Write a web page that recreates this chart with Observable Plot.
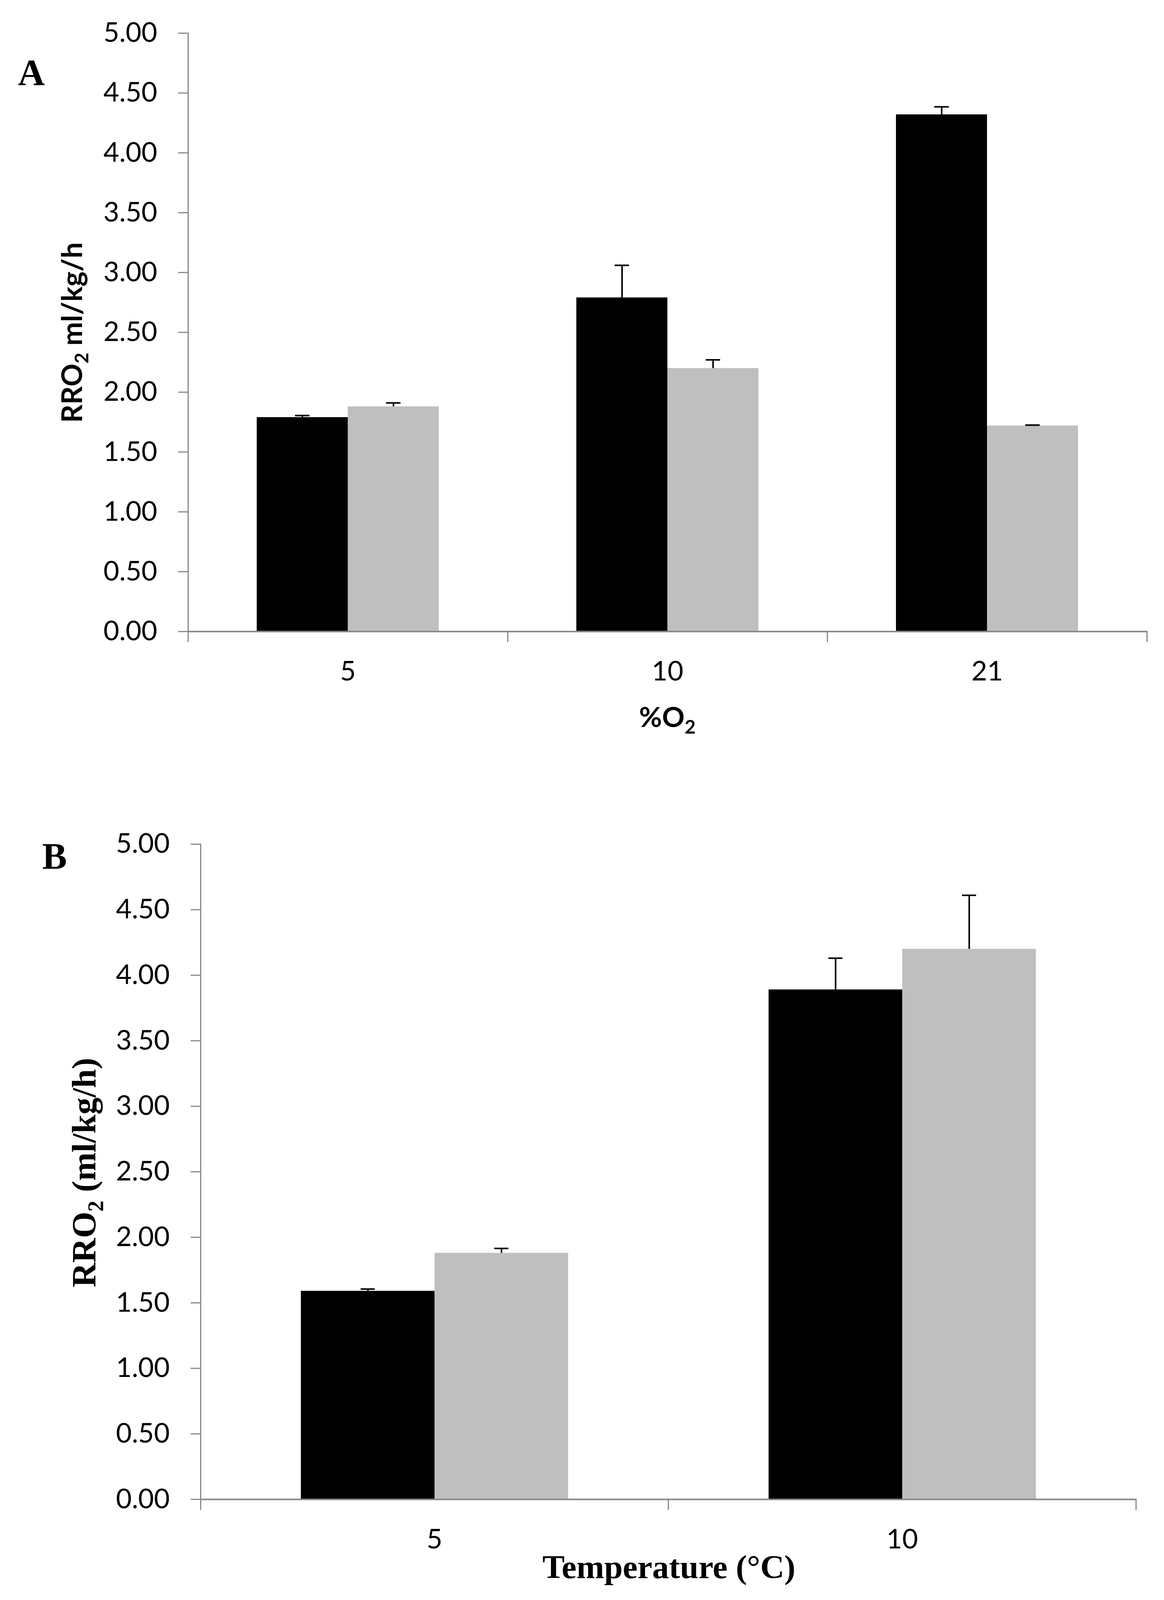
<!DOCTYPE html>
<html><head><meta charset="utf-8">
<script src="https://cdn.jsdelivr.net/npm/d3@7"></script>
<script src="https://cdn.jsdelivr.net/npm/@observablehq/plot@0.6"></script>
<style>
html,body{margin:0;padding:0;background:#fff;overflow:hidden;}
#chart{width:2979px;background:#fff;}
#chart svg{display:block;}
</style>
</head><body><div id="chart"></div>
<script>
// ---- data ----
const seriesNames = ["Series 1", "Series 2"];
const catsA = ["5", "10", "21"];
const meansA1 = [1.79, 2.79, 4.32];
const errsA1 = [0.015, 0.27, 0.065];
const meansA2 = [1.88, 2.20, 1.72];
const errsA2 = [0.03, 0.07, 0.005];
const catsB = ["5", "10"];
const meansB1 = [1.59, 3.89];
const errsB1 = [0.015, 0.24];
const meansB2 = [1.88, 4.20];
const errsB2 = [0.035, 0.41];
const yTicks = [0, 0.5, 1, 1.5, 2, 2.5, 3, 3.5, 4, 4.5, 5];

function rows(cats, m1, e1, m2, e2) {
  return cats.flatMap((c, i) => [
    {cat: c, series: seriesNames[0], value: m1[i], err: e1[i]},
    {cat: c, series: seriesNames[1], value: m2[i], err: e2[i]}
  ]);
}
const dataA = rows(catsA, meansA1, errsA1, meansA2, errsA2);
const dataB = rows(catsB, meansB1, errsB1, meansB2, errsB2);

// ---- layout (the visible viewport is shorter than the reference; vertical layout is scaled to fit) ----
const VH = Math.min(window.innerHeight || 4364, 4364);
const k = VH / 4364;          // vertical scale
const f = Math.sqrt(k);       // font scale
const AX = "#888888";

function panel({data, cats, width, height, mt, mr, mb, ml, capInset}) {
  const frameH = height - mt - mb;
  return Plot.plot({
    width, height,
    marginTop: mt, marginRight: mr, marginBottom: mb, marginLeft: ml,
    style: {background: "white", overflow: "visible"},
    fx: {domain: cats, padding: 0},
    x: {domain: seriesNames, paddingInner: 0, paddingOuter: 0.75, axis: null},
    y: {domain: [0, 5]},
    color: {domain: seriesNames, range: ["#000000", "#bfbfbf"]},
    marks: [
      Plot.barY(data, {fx: "cat", x: "series", y: "value", fill: "series"}),
      Plot.ruleY([0], {stroke: AX, strokeWidth: 4}),
      Plot.frame({anchor: "left", facetAnchor: "left", stroke: AX, strokeWidth: 3}),
      Plot.frame({anchor: "left", stroke: AX, strokeWidth: 3, insetTop: frameH, insetBottom: -27 * k}),
      Plot.frame({anchor: "right", stroke: AX, strokeWidth: 3, insetTop: frameH, insetBottom: -27 * k}),
      Plot.ruleX(data, {fx: "cat", x: "series", y1: "value", y2: d => d.value + d.err, stroke: "black", strokeWidth: 4}),
      Plot.tickY(data, {fx: "cat", x: "series", y: d => d.value + d.err, stroke: "black", strokeWidth: 4, insetLeft: capInset, insetRight: capInset}),
      Plot.axisY({ticks: yTicks, tickFormat: d3.format(".2f"), tickSize: 25, tickPadding: 54, stroke: AX, strokeWidth: 3, fill: "black", fontSize: 72 * f, fontFamily: "Lato", label: null}),
      Plot.axisFx({anchor: "bottom", tickSize: 0, tickPadding: 81 * k, fill: "black", fontSize: 72 * f, fontFamily: "Lato", label: null})
    ]
  });
}

function addText(svg, {x, y, rotate = 0, anchor = "middle", family, size, weight = "bold", parts}) {
  const t = d3.select(svg).append("text")
    .attr("transform", `translate(${x},${y}) rotate(${rotate})`)
    .attr("text-anchor", anchor)
    .attr("font-family", family)
    .attr("font-size", size)
    .attr("font-weight", weight)
    .attr("fill", "black");
  for (const p of parts) {
    const s = t.append("tspan").text(p.t);
    if (p.size) s.attr("font-size", p.size);
    if (p.dy) s.attr("dy", p.dy);
  }
}

const chart = document.getElementById("chart");

const hA = 2150 * k;
const svgA = panel({data: dataA, cats: catsA, width: 2979, height: hA, mt: 90 * k, mr: 44, mb: 428 * k, ml: 481, capInset: 98});
chart.appendChild(svgA);
addText(svgA, {x: 46, y: 232 * k, anchor: "start", family: "Liberation Serif", size: 98 * f, parts: [{t: "A"}]});
addText(svgA, {x: 210, y: 907 * k, rotate: -90, family: "Lato", size: 75 * f,
  parts: [{t: "RRO"}, {t: "2", size: 50 * f, dy: 16}, {t: " ml/kg/h", dy: -16}]});
addText(svgA, {x: 1708, y: 1983 * k, family: "Lato", size: 74 * f,
  parts: [{t: "%O"}, {t: "2", size: 50 * f, dy: 18 * k}]});

const hB = VH - hA;
const svgB = panel({data: dataB, cats: catsB, width: 2979, height: hB, mt: 152 * k, mr: 72, mb: 275 * k, ml: 512, capInset: 153});
chart.appendChild(svgB);
addText(svgB, {x: 108, y: 219 * k, anchor: "start", family: "Liberation Serif", size: 98 * f, parts: [{t: "B"}]});
addText(svgB, {x: 244, y: 1048 * k, rotate: -90, family: "Liberation Serif", size: 90 * f,
  parts: [{t: "RRO"}, {t: "2", size: 58 * f, dy: 20}, {t: " (ml/kg/h)", dy: -20}]});
addText(svgB, {x: 1712, y: 2154 * k, family: "Liberation Serif", size: 88 * f,
  parts: [{t: "Temperature (°C)"}]});
</script>
</body></html>
